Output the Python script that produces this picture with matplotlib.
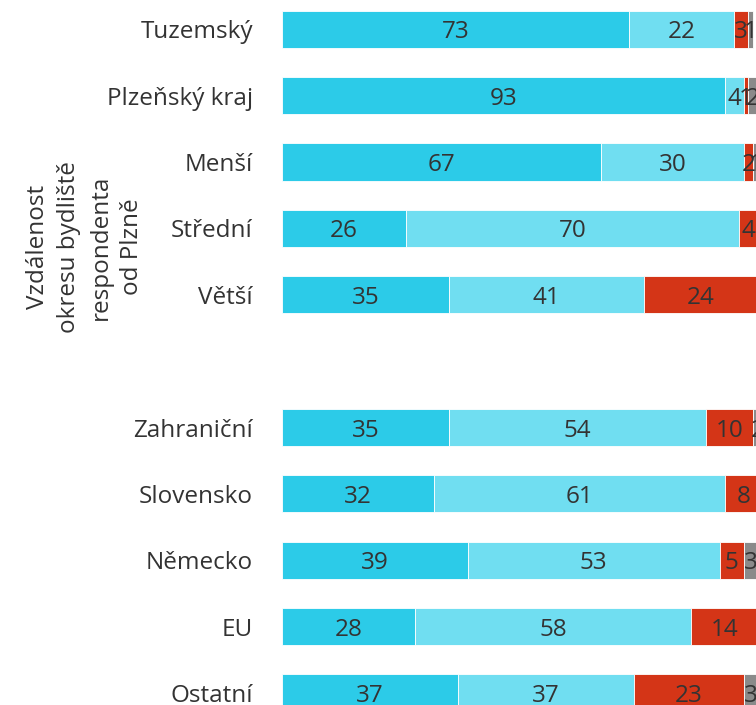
import matplotlib.pyplot as plt
import numpy as np

plt.rcParams['font.family'] = ['Open Sans', 'DejaVu Sans']

categories = ['Tuzemský', 'Plzeňský kraj', 'Menší', 'Střední', 'Větší',
              'Zahraniční', 'Slovensko', 'Německo', 'EU', 'Ostatní']
rows = [0, 1, 2, 3, 4, 6, 7, 8, 9, 10]

s1 = [73, 93, 67, 26, 35, 35, 32, 39, 28, 37]
s2 = [22, 4, 30, 70, 41, 54, 61, 53, 58, 37]
s3 = [3, 1, 2, 4, 24, 10, 8, 5, 14, 23]
s4 = [1, 2, 1, 0, 0, 2, 0, 3, 0, 3]

colors = ['#2ccbe8', '#70def1', '#d43517', '#8a8a8a']
text_color = '#333333'

fig = plt.figure(figsize=(7.56, 7.05), dpi=100)
ax = fig.add_axes([282 / 756, 0, 476 / 756, 1])

left = np.zeros(len(rows))
for vals, c in zip([s1, s2, s3, s4], colors):
    vals = np.array(vals, dtype=float)
    ax.barh(rows, vals, left=left, height=0.56, color=c,
            edgecolor='white', linewidth=0.6)
    for r, l, v in zip(rows, left, vals):
        if v > 0:
            ax.text(l + v / 2, r, f'{int(v)}', ha='center',
                    va='center_baseline', fontsize=17.5, color=text_color)
    left += vals

ax.set_xlim(0, 100)
ax.set_ylim(10.18, -0.44)
ax.set_yticks(rows)
ax.set_yticklabels(categories, fontsize=17.5, color=text_color)
ax.tick_params(axis='y', length=0, pad=21)
ax.set_xticks([])
for sp in ax.spines.values():
    sp.set_visible(False)

fig.text(85 / 756, 1 - 247 / 705,
         'Vzdálenost\nokresu bydliště\nrespondenta\nod Plzně',
         rotation=90, ha='center', va='center', fontsize=17.5,
         color=text_color, multialignment='center', linespacing=1.42)

fig.savefig('out.png', dpi=100)
